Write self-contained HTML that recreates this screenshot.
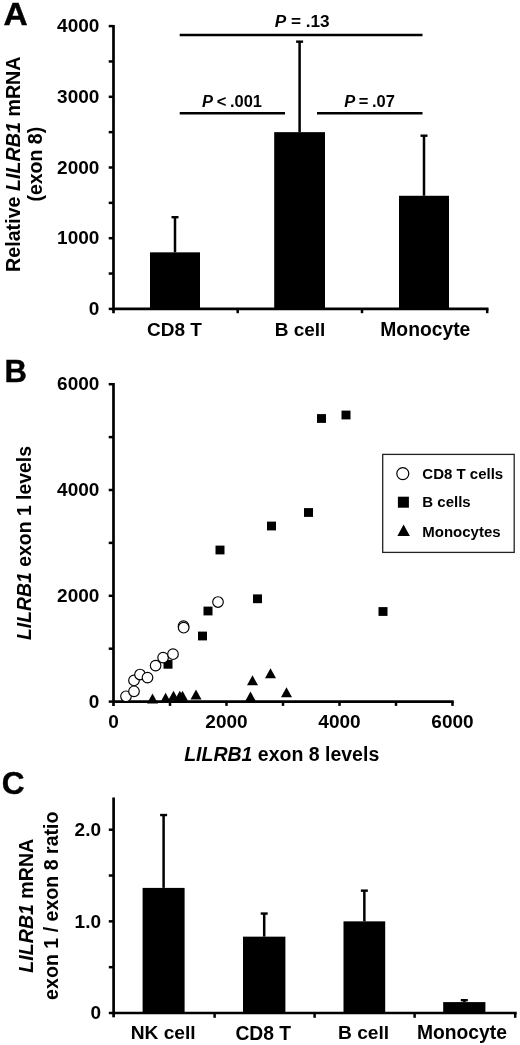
<!DOCTYPE html>
<html><head><meta charset="utf-8"><title>Figure</title>
<style>html,body{margin:0;padding:0;background:#fff;}body{width:520px;height:1045px;overflow:hidden;font-family:"Liberation Sans",sans-serif;}</style></head>
<body>
<svg width="520" height="1045" viewBox="0 0 520 1045" style="display:block;filter:grayscale(1)" font-family="'Liberation Sans', sans-serif" font-weight="bold" fill="#000">
<rect x="0" y="0" width="520" height="1045" fill="#fff"/>
<text transform="translate(3.6,25) scale(1.08,1)" font-size="31" stroke="#000" stroke-width="0.4">A</text>
<line x1="113.5" y1="24.899999999999967" x2="113.5" y2="313.2" stroke="#000" stroke-width="2.7"/>
<line x1="113.5" y1="308.9" x2="488.5" y2="308.9" stroke="#000" stroke-width="2.7"/>
<line x1="108.7" y1="308.9" x2="113.5" y2="308.9" stroke="#000" stroke-width="2.5"/>
<text x="99.4" y="315.09999999999997" font-size="19" text-anchor="end" >0</text>
<line x1="108.7" y1="273.54999999999995" x2="113.5" y2="273.54999999999995" stroke="#000" stroke-width="2.5"/>
<line x1="108.7" y1="238.2" x2="113.5" y2="238.2" stroke="#000" stroke-width="2.5"/>
<text x="99.4" y="244.39999999999998" font-size="19" text-anchor="end" >1000</text>
<line x1="108.7" y1="202.84999999999997" x2="113.5" y2="202.84999999999997" stroke="#000" stroke-width="2.5"/>
<line x1="108.7" y1="167.49999999999997" x2="113.5" y2="167.49999999999997" stroke="#000" stroke-width="2.5"/>
<text x="99.4" y="173.69999999999996" font-size="19" text-anchor="end" >2000</text>
<line x1="108.7" y1="132.14999999999998" x2="113.5" y2="132.14999999999998" stroke="#000" stroke-width="2.5"/>
<line x1="108.7" y1="96.79999999999998" x2="113.5" y2="96.79999999999998" stroke="#000" stroke-width="2.5"/>
<text x="99.4" y="102.99999999999999" font-size="19" text-anchor="end" >3000</text>
<line x1="108.7" y1="61.44999999999999" x2="113.5" y2="61.44999999999999" stroke="#000" stroke-width="2.5"/>
<line x1="108.7" y1="26.099999999999966" x2="113.5" y2="26.099999999999966" stroke="#000" stroke-width="2.5"/>
<text x="99.4" y="32.29999999999997" font-size="19" text-anchor="end" >4000</text>
<line x1="237.7" y1="308.9" x2="237.7" y2="313.2" stroke="#000" stroke-width="2.5"/>
<line x1="362" y1="308.9" x2="362" y2="313.2" stroke="#000" stroke-width="2.5"/>
<line x1="487.2" y1="308.9" x2="487.2" y2="313.2" stroke="#000" stroke-width="2.5"/>
<rect x="150" y="252.33999999999997" width="50" height="56.56" fill="#000" />
<line x1="175.0" y1="217.20209999999997" x2="175.0" y2="252.33999999999997" stroke="#000" stroke-width="2.5"/>
<line x1="171.5" y1="217.20209999999997" x2="178.5" y2="217.20209999999997" stroke="#000" stroke-width="2.4"/>
<rect x="274.2" y="132.14999999999998" width="50.80000000000001" height="176.75" fill="#000" />
<line x1="299.6" y1="41.653999999999996" x2="299.6" y2="132.14999999999998" stroke="#000" stroke-width="2.5"/>
<line x1="296.1" y1="41.653999999999996" x2="303.1" y2="41.653999999999996" stroke="#000" stroke-width="2.4"/>
<rect x="399" y="195.77999999999997" width="50" height="113.12" fill="#000" />
<line x1="424.0" y1="135.68499999999997" x2="424.0" y2="195.77999999999997" stroke="#000" stroke-width="2.5"/>
<line x1="420.5" y1="135.68499999999997" x2="427.5" y2="135.68499999999997" stroke="#000" stroke-width="2.4"/>
<text x="174.5" y="335.5" font-size="19" text-anchor="middle" >CD8 T</text>
<text x="300" y="335.5" font-size="19" text-anchor="middle" >B cell</text>
<text x="425.3" y="335.5" font-size="19.3" text-anchor="middle" >Monocyte</text>
<line x1="179.7" y1="35" x2="422.5" y2="35" stroke="#000" stroke-width="2.6"/>
<line x1="179.7" y1="113.2" x2="285" y2="113.2" stroke="#000" stroke-width="2.6"/>
<line x1="317" y1="113.2" x2="422.5" y2="113.2" stroke="#000" stroke-width="2.6"/>
<text x="302.2" y="27.3" font-size="17.2" text-anchor="middle" ><tspan font-style="italic">P</tspan> = .13</text>
<text transform="translate(232,107) scale(0.97,1)" font-size="17" text-anchor="middle" word-spacing="-1"><tspan font-style="italic">P</tspan> &lt; .001</text>
<text transform="translate(369.5,107) scale(0.97,1)" font-size="17" text-anchor="middle" word-spacing="-1"><tspan font-style="italic">P</tspan> = .07</text>
<text transform="translate(19.5,164.2) rotate(-90)" font-size="19.7" text-anchor="middle">Relative <tspan font-style="italic">LILRB1</tspan> mRNA</text>
<text transform="translate(42,164.2) rotate(-90)" font-size="19.5" text-anchor="middle">(exon 8)</text>
<text x="4.6" y="382" font-size="31" stroke="#000" stroke-width="0.4">B</text>
<line x1="113.5" y1="383.00000000000006" x2="113.5" y2="705.9" stroke="#000" stroke-width="2.7"/>
<line x1="113.5" y1="701.6" x2="453.7" y2="701.6" stroke="#000" stroke-width="2.7"/>
<line x1="108.7" y1="701.6" x2="113.5" y2="701.6" stroke="#000" stroke-width="2.5"/>
<text x="99.4" y="707.8000000000001" font-size="19" text-anchor="end" >0</text>
<text x="113.5" y="727.5" font-size="19" text-anchor="middle" >0</text>
<line x1="108.7" y1="648.7" x2="113.5" y2="648.7" stroke="#000" stroke-width="2.5"/>
<line x1="170.0" y1="701.6" x2="170.0" y2="705.9" stroke="#000" stroke-width="2.5"/>
<line x1="108.7" y1="595.8000000000001" x2="113.5" y2="595.8000000000001" stroke="#000" stroke-width="2.5"/>
<text x="99.4" y="602.0000000000001" font-size="19" text-anchor="end" >2000</text>
<line x1="226.5" y1="701.6" x2="226.5" y2="705.9" stroke="#000" stroke-width="2.5"/>
<text x="226.5" y="727.5" font-size="19" text-anchor="middle" >2000</text>
<line x1="108.7" y1="542.9000000000001" x2="113.5" y2="542.9000000000001" stroke="#000" stroke-width="2.5"/>
<line x1="283.0" y1="701.6" x2="283.0" y2="705.9" stroke="#000" stroke-width="2.5"/>
<line x1="108.7" y1="490.0" x2="113.5" y2="490.0" stroke="#000" stroke-width="2.5"/>
<text x="99.4" y="496.2" font-size="19" text-anchor="end" >4000</text>
<line x1="339.5" y1="701.6" x2="339.5" y2="705.9" stroke="#000" stroke-width="2.5"/>
<text x="339.5" y="727.5" font-size="19" text-anchor="middle" >4000</text>
<line x1="108.7" y1="437.1" x2="113.5" y2="437.1" stroke="#000" stroke-width="2.5"/>
<line x1="396.0" y1="701.6" x2="396.0" y2="705.9" stroke="#000" stroke-width="2.5"/>
<line x1="108.7" y1="384.20000000000005" x2="113.5" y2="384.20000000000005" stroke="#000" stroke-width="2.5"/>
<text x="99.4" y="390.40000000000003" font-size="19" text-anchor="end" >6000</text>
<line x1="452.5" y1="701.6" x2="452.5" y2="705.9" stroke="#000" stroke-width="2.5"/>
<text x="452.5" y="727.5" font-size="19" text-anchor="middle" >6000</text>
<text x="281.7" y="761.3" font-size="19.5" text-anchor="middle" ><tspan font-style="italic">LILRB1</tspan> exon 8 levels</text>
<text transform="translate(30.5,543) rotate(-90)" font-size="19.4" text-anchor="middle"><tspan font-style="italic">LILRB1</tspan> exon 1 levels</text>
<rect x="382.7" y="454.4" width="131.5" height="98" fill="#fff" stroke="#222" stroke-width="1.3"/>
<text x="422.3" y="479.2" font-size="15" text-anchor="start" >CD8 T cells</text>
<text x="422.3" y="507.2" font-size="15" text-anchor="start" >B cells</text>
<text x="422.3" y="536.5" font-size="15" text-anchor="start" >Monocytes</text>
<rect x="317.0" y="414.1" width="9" height="8.8" fill="#000" />
<rect x="341.5" y="410.6" width="9" height="8.8" fill="#000" />
<rect x="304.0" y="508.1" width="9" height="8.8" fill="#000" />
<rect x="267.0" y="521.6" width="9" height="8.8" fill="#000" />
<rect x="215.5" y="545.6" width="9" height="8.8" fill="#000" />
<rect x="253.0" y="594.4" width="9" height="8.8" fill="#000" />
<rect x="203.5" y="606.6" width="9" height="8.8" fill="#000" />
<rect x="198.0" y="631.6" width="9" height="8.8" fill="#000" />
<rect x="163.5" y="659.9" width="9" height="8.8" fill="#000" />
<rect x="378.5" y="607.1" width="9" height="8.8" fill="#000" />
<polygon points="152.5,693.5 147.0,703.5 158.0,703.5" fill="#000"/>
<polygon points="165.6,692.8 160.1,702.8 171.1,702.8" fill="#000"/>
<polygon points="173.5,690.8 168.0,700.8 179.0,700.8" fill="#000"/>
<polygon points="179.8,690.8 174.3,700.8 185.3,700.8" fill="#000"/>
<polygon points="182.5,690.8 177.0,700.8 188.0,700.8" fill="#000"/>
<polygon points="196,689.6 190.5,699.6 201.5,699.6" fill="#000"/>
<polygon points="250.5,691.5 245.0,701.5 256.0,701.5" fill="#000"/>
<polygon points="252.5,675.3 247.0,685.3 258.0,685.3" fill="#000"/>
<polygon points="270.5,668.3 265.0,678.3 276.0,678.3" fill="#000"/>
<polygon points="286.5,687.3 281.0,697.3 292.0,697.3" fill="#000"/>
<circle cx="126" cy="696.3" r="5.3" fill="#fff" stroke="#000" stroke-width="1.15"/>
<circle cx="134" cy="691.3" r="5.3" fill="#fff" stroke="#000" stroke-width="1.15"/>
<circle cx="134" cy="680.4" r="5.3" fill="#fff" stroke="#000" stroke-width="1.15"/>
<circle cx="140" cy="674.5" r="5.3" fill="#fff" stroke="#000" stroke-width="1.15"/>
<circle cx="147.5" cy="677.6" r="5.3" fill="#fff" stroke="#000" stroke-width="1.15"/>
<circle cx="155.6" cy="665.6" r="5.3" fill="#fff" stroke="#000" stroke-width="1.15"/>
<circle cx="163.1" cy="657.6" r="5.3" fill="#fff" stroke="#000" stroke-width="1.15"/>
<circle cx="173" cy="654.2" r="5.3" fill="#fff" stroke="#000" stroke-width="1.15"/>
<circle cx="183.5" cy="626.2" r="5.3" fill="#fff" stroke="#000" stroke-width="1.15"/>
<circle cx="183.7" cy="627.7" r="5.3" fill="#fff" stroke="#000" stroke-width="1.15"/>
<circle cx="218" cy="602" r="5.3" fill="#fff" stroke="#000" stroke-width="1.15"/>
<circle cx="402.8" cy="473.6" r="6" fill="#fff" stroke="#000" stroke-width="1.2"/>
<rect x="397.9" y="496.7" width="11" height="11" fill="#000" />
<polygon points="403.6,524.5999999999999 397.35,536.0 409.85,536.0" fill="#000"/>
<text x="1.7" y="794" font-size="31.6" stroke="#000" stroke-width="0.4">C</text>
<line x1="113.6" y1="797.5" x2="113.6" y2="1017.3" stroke="#000" stroke-width="2.7"/>
<line x1="113.6" y1="1013" x2="516.7" y2="1013" stroke="#000" stroke-width="2.7"/>
<line x1="108.8" y1="1013.0" x2="113.6" y2="1013.0" stroke="#000" stroke-width="2.5"/>
<line x1="108.8" y1="967.175" x2="113.6" y2="967.175" stroke="#000" stroke-width="2.5"/>
<line x1="108.8" y1="921.35" x2="113.6" y2="921.35" stroke="#000" stroke-width="2.5"/>
<line x1="108.8" y1="875.525" x2="113.6" y2="875.525" stroke="#000" stroke-width="2.5"/>
<line x1="108.8" y1="829.7" x2="113.6" y2="829.7" stroke="#000" stroke-width="2.5"/>
<text x="101" y="1019.2" font-size="19" text-anchor="end" >0</text>
<text x="101" y="927.5500000000001" font-size="19" text-anchor="end" >1.0</text>
<text x="101" y="835.9000000000001" font-size="19" text-anchor="end" >2.0</text>
<line x1="214.6" y1="1013" x2="214.6" y2="1017.8" stroke="#000" stroke-width="2.5"/>
<line x1="314.6" y1="1013" x2="314.6" y2="1017.8" stroke="#000" stroke-width="2.5"/>
<line x1="414.6" y1="1013" x2="414.6" y2="1017.8" stroke="#000" stroke-width="2.5"/>
<line x1="515.2" y1="1013" x2="515.2" y2="1017.8" stroke="#000" stroke-width="2.5"/>
<rect x="142.6" y="887.89775" width="42.0" height="125.10225000000001" fill="#000" />
<line x1="163.6" y1="815.036" x2="163.6" y2="887.89775" stroke="#000" stroke-width="2.5"/>
<line x1="160.1" y1="815.036" x2="167.1" y2="815.036" stroke="#000" stroke-width="2.4"/>
<rect x="243" y="936.65555" width="42.39999999999998" height="76.34445" fill="#000" />
<line x1="264.2" y1="913.55975" x2="264.2" y2="936.65555" stroke="#000" stroke-width="2.5"/>
<line x1="260.7" y1="913.55975" x2="267.7" y2="913.55975" stroke="#000" stroke-width="2.4"/>
<rect x="343.5" y="921.35" width="41.69999999999999" height="91.65" fill="#000" />
<line x1="364.35" y1="890.64725" x2="364.35" y2="921.35" stroke="#000" stroke-width="2.5"/>
<line x1="360.85" y1="890.64725" x2="367.85" y2="890.64725" stroke="#000" stroke-width="2.4"/>
<rect x="443.2" y="1002.09365" width="42.19999999999999" height="10.90635" fill="#000" />
<line x1="464.29999999999995" y1="1000.169" x2="464.29999999999995" y2="1002.09365" stroke="#000" stroke-width="2.5"/>
<line x1="460.79999999999995" y1="1000.169" x2="467.79999999999995" y2="1000.169" stroke="#000" stroke-width="2.4"/>
<text x="163.2" y="1038.6" font-size="19.2" text-anchor="middle" >NK cell</text>
<text x="263.3" y="1039.7" font-size="19.3" text-anchor="middle" >CD8 T</text>
<text x="363.6" y="1038.6" font-size="19.2" text-anchor="middle" >B cell</text>
<text x="461.9" y="1038.7" font-size="19.3" text-anchor="middle" >Monocyte</text>
<text transform="translate(32.7,905.7) rotate(-90)" font-size="19.6" text-anchor="middle"><tspan font-style="italic">LILRB1</tspan> mRNA</text>
<text transform="translate(58.2,905.7) rotate(-90)" font-size="19.6" text-anchor="middle">exon 1 / exon 8 ratio</text>
</svg>
</body></html>
